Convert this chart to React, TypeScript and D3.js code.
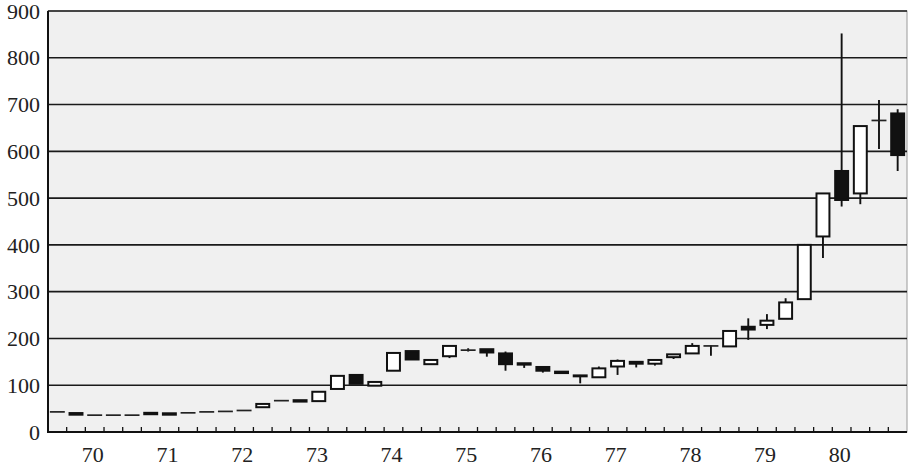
import React from "react";
import * as d3 from "d3";

const slots = d3.range(46);
const opens = [43, 40.5, 36, 36, 36, 41, 40, 41, 43, 44, 46, 53, 67, 68, 66, 92, 122, 99, 131, 173, 145, 162, 175, 177, 168, 147, 139, 129, 121, 117, 140, 150, 146, 160, 168, 184, 183, 225, 229, 242, 284, 418, 558, 510, 666, 681];
const closes = [43, 37, 36, 36, 36, 38, 37, 41, 43, 44, 46, 60, 67, 65, 86, 120, 103, 107, 169, 155, 154, 184, 175, 170, 145, 144, 131, 126, 119, 136, 152, 146, 154, 166, 184, 184, 216, 219, 238, 277, 400, 510, 496, 654, 666, 592];
const highs = [43, 40.5, 36, 36, 36, 41, 40, 41, 43, 44, 46, 60, 67, 68, 86, 120, 122, 107, 169, 173, 154, 185, 179, 177, 172, 147, 139, 129, 122, 140, 155, 150, 154, 166, 190, 185, 216, 243, 252, 286, 402, 510, 852, 654, 710, 690];
const lows = [43, 37, 36, 36, 36, 38, 37, 41, 43, 44, 46, 53, 67, 65, 66, 92, 103, 99, 131, 155, 145, 158, 172, 161, 131, 137, 127, 126, 104, 117, 122, 138, 142, 156, 168, 163, 183, 197, 220, 242, 284, 372, 482, 487, 605, 558];
const yearLabels = ["70", "71", "72", "73", "74", "75", "76", "77", "78", "79", "80"];
const yTicks = [0, 100, 200, 300, 400, 500, 600, 700, 800, 900];

const W = 913;
const H = 468;
const left = 48;
const right = 907;
const top = 11;
const bottom = 432;

export default function App() {
  const x = d3.scaleBand<number>().domain(slots).range([left, right]).paddingInner(0.2).paddingOuter(0.1);
  const step = x.step();
  const xs = (i: number) => left + step * i;
  const y = d3.scaleLinear().domain([0, 900]).range([bottom, top]);
  const font = "'Liberation Serif', 'Times New Roman', serif";
  const bw = step * 0.8;

  return (
    <svg width={W} height={H} style={{ position: "absolute", left: 0, top: 0, display: "block" }}>
      <rect x={left} y={top} width={right - left} height={bottom - top} fill="#f0f0f0" stroke="#9a9a9a" strokeWidth={1} />
      {yTicks.slice(1).map((t) => (
        <line key={t} x1={left} x2={right} y1={y(t)} y2={y(t)} stroke="#1a1a1a" strokeWidth={1.6} />
      ))}
      {slots.slice(1).map((i) => (
        <line key={i} x1={xs(i)} x2={xs(i)} y1={bottom} y2={bottom - 5} stroke="#111" strokeWidth={1.3} />
      ))}
      {slots.map((i) => {
        const o = opens[i];
        const c = closes[i];
        const h = highs[i];
        const l = lows[i];
        const cx = left + step * (i + 0.5);
        const x0 = cx - bw / 2;
        const up = c >= o;
        const yTop = y(Math.max(o, c));
        const yBot = y(Math.min(o, c));
        return (
          <g key={i}>
            {(h > Math.max(o, c) || l < Math.min(o, c)) && (
              <line x1={cx} x2={cx} y1={y(h)} y2={y(l)} stroke="#111" strokeWidth={1.9} />
            )}
            {o === c ? (
              <line x1={x0} x2={x0 + bw} y1={y(o)} y2={y(o)} stroke="#222" strokeWidth={1.7} />
            ) : (
              <rect
                x={x0 + 1}
                y={yTop}
                width={bw - 2}
                height={Math.max(yBot - yTop, 0.5)}
                fill={up ? "#ffffff" : "#111"}
                stroke="#111"
                strokeWidth={2}
              />
            )}
          </g>
        );
      })}
      <line x1={left} x2={left} y1={top} y2={bottom + 1} stroke="#111" strokeWidth={2} />
      <line x1={left - 1} x2={right} y1={bottom} y2={bottom} stroke="#111" strokeWidth={2} />
      {yTicks.map((t) => (
        <text key={t} x={40} y={y(t)} dy="0.35em" textAnchor="end" fontFamily={font} fontSize={22} fill="#222">
          {t}
        </text>
      ))}
      {yearLabels.map((lab, k) => (
        <text key={lab} x={left + step * (4 * k + 2.4)} y={462} textAnchor="middle" fontFamily={font} fontSize={22} fill="#222">
          {lab}
        </text>
      ))}
    </svg>
  );
}
